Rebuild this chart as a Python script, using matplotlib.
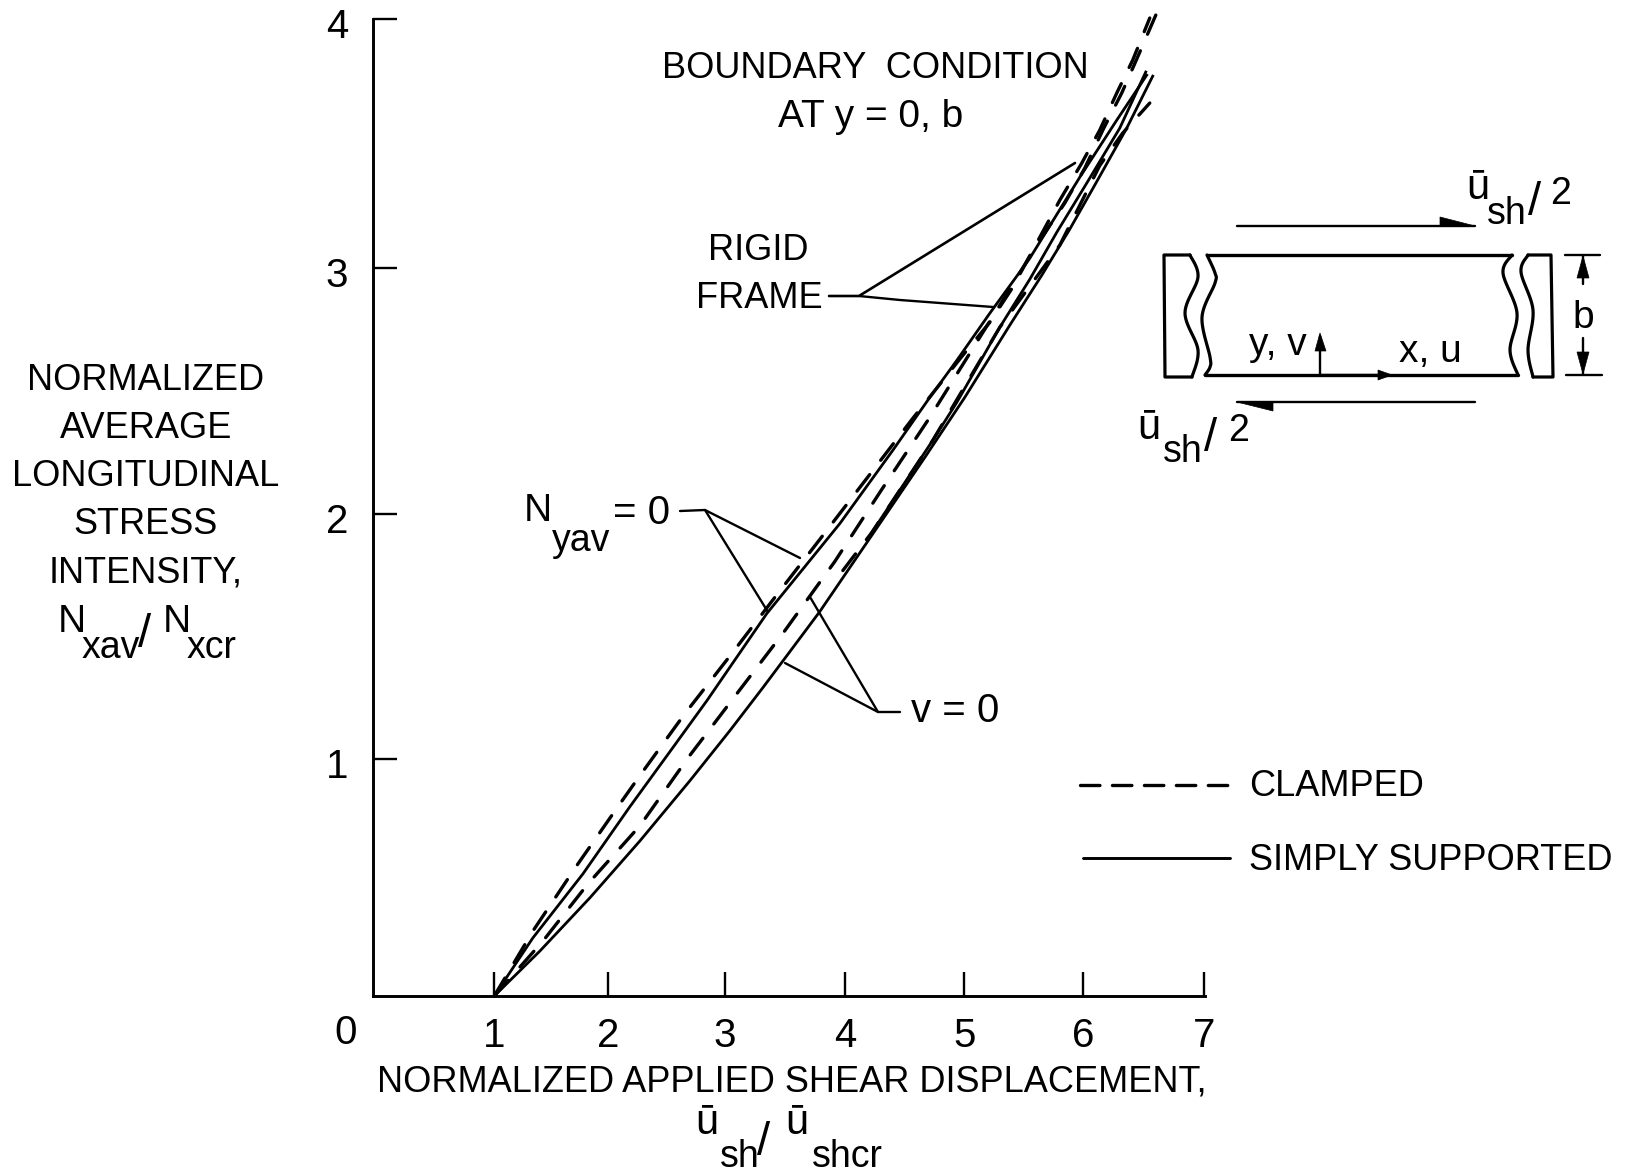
import numpy as np
import matplotlib
matplotlib.use('Agg')
import matplotlib.pyplot as plt
from matplotlib.transforms import ScaledTranslation

plt.rcParams['font.family'] = ['Liberation Sans', 'DejaVu Sans']
plt.rcParams['lines.scale_dashes'] = False

# Simply supported curves
ss_nyav_x = [1.0, 1.327, 1.75, 2.147, 2.485, 2.798, 3.305, 3.922, 4.37, 4.666, 4.911, 5.19, 5.528, 5.951, 6.264, 6.517]
ss_nyav_y = [0.0, 0.238, 0.50, 0.775, 1.0, 1.209, 1.566, 1.934, 2.234, 2.439, 2.602, 2.795, 3.02, 3.352, 3.586, 3.77]
ss_v_x = [1.0, 1.386, 1.809, 2.232, 2.654, 2.992, 3.271, 3.50, 3.753, 4.26, 4.641, 4.979, 5.359, 5.63, 5.866, 6.078, 6.348, 6.568]
ss_v_y = [0.0, 0.184, 0.402, 0.635, 0.881, 1.086, 1.262, 1.41, 1.574, 1.934, 2.205, 2.451, 2.746, 2.951, 3.139, 3.32, 3.553, 3.766]
ss_rigid_x = [4.193, 4.708, 4.911, 5.275, 5.528, 5.757, 6.01, 6.289, 6.509]
ss_rigid_y = [1.898, 2.275, 2.43, 2.738, 2.934, 3.127, 3.328, 3.553, 3.783]

# Clamped curves
cl_nyav_x = [1.0, 1.327, 1.708, 2.063, 2.249, 2.612, 3.009, 3.398, 3.778, 4.15, 4.539, 4.962, 5.19, 5.385, 5.782, 5.968, 6.12, 6.264, 6.399, 6.543]
cl_nyav_y = [0.0, 0.266, 0.541, 0.787, 0.914, 1.156, 1.402, 1.648, 1.885, 2.119, 2.365, 2.623, 2.758, 2.902, 3.258, 3.41, 3.545, 3.697, 3.832, 4.004]
cl_v_x = [1.0, 1.412, 1.792, 2.232, 2.646, 3.052, 3.44, 3.88, 4.277, 4.683, 5.021, 5.275, 5.613, 5.824, 5.993, 6.154, 6.306, 6.433, 6.602]
cl_v_y = [0.0, 0.225, 0.459, 0.697, 0.98, 1.238, 1.484, 1.779, 2.074, 2.369, 2.631, 2.828, 3.094, 3.246, 3.389, 3.553, 3.697, 3.836, 4.025]
cl_rigid_x = [3.948, 4.193, 4.708, 5.275, 5.782, 6.12, 6.314, 6.543]
cl_rigid_y = [1.742, 1.898, 2.275, 2.738, 3.074, 3.40, 3.533, 3.656]

# tick marks of the original sit slightly off an even grid
x_tick_pos = [1, 1.965, 2.95, 3.965, 4.975, 5.98, 7]
x_tick_labels = ['1', '2', '3', '4', '5', '6', '7']
y_tick_pos = [0.97, 1.975, 2.98, 4]
y_tick_labels = ['1', '2', '3', '4']

ylabel_lines = ['NORMALIZED', 'AVERAGE', 'LONGITUDINAL', 'STRESS', 'INTENSITY,']
ylabel_y = [380, 428, 476, 525, 573]

W, H = 1631, 1174
TXT = 26
fig = plt.figure(figsize=(W / 100, H / 100), dpi=100)

# axes box in pixels of the picture
left, right, top, bottom = 373, 1205, 19, 996
ax = fig.add_axes([left / W, 1 - bottom / H, (right - left) / W, (bottom - top) / H])
ax.set_xlim(-0.025, 7.01)
ax.set_ylim(0, 4)
for s in ['top', 'right']:
    ax.spines[s].set_visible(False)
for s in ['left', 'bottom']:
    ax.spines[s].set_linewidth(2.1)
ax.set_xticks(x_tick_pos, x_tick_labels)
ax.set_yticks(y_tick_pos, y_tick_labels)
ax.tick_params(direction='in', length=17, width=1.7, labelsize=29)
ax.tick_params(axis='x', pad=15)
ax.tick_params(axis='y', pad=18)
down = ScaledTranslation(0, -3 / 72, fig.dpi_scale_trans)
for t in ax.get_yticklabels():
    t.set_transform(t.get_transform() + down)

solid = dict(color='black', lw=2.0, clip_on=False)
dash = dict(color='black', lw=2.4, clip_on=False, dashes=(15, 13), dash_capstyle='round')
ax.plot(ss_nyav_x, ss_nyav_y, **solid)
ax.plot(ss_v_x, ss_v_y, **solid)
ax.plot(ss_rigid_x, ss_rigid_y, **solid)
ax.plot(cl_nyav_x, cl_nyav_y, **dash)
ax.plot(cl_v_x, cl_v_y, **dash)
ax.plot(cl_rigid_x, cl_rigid_y, **dash)

# overlay in picture pixels for the notes and the sketch
ov = fig.add_axes([0, 0, 1, 1])
ov.set_xlim(0, W)
ov.set_ylim(H, 0)
ov.axis('off')
ov.patch.set_alpha(0)


def line(xs, ys, lw=1.7):
    ov.plot(xs, ys, color='black', lw=lw, solid_capstyle='round', solid_joinstyle='round')


def head(xs, ys):
    ov.fill(xs, ys, color='black', lw=0.5)


def smooth(pts, n=14):
    # catmull-rom through the given outline points
    p = np.array(pts, dtype=float)
    p = np.vstack([p[0], p, p[-1]])
    out = []
    for i in range(1, len(p) - 2):
        for t in np.linspace(0, 1, n):
            out.append(0.5 * (2 * p[i] + (p[i + 1] - p[i - 1]) * t
                              + (2 * p[i - 1] - 5 * p[i] + 4 * p[i + 1] - p[i + 2]) * t ** 2
                              + (3 * p[i] - p[i - 1] - 3 * p[i + 1] + p[i + 2]) * t ** 3))
    out = np.array(out)
    return out[:, 0], out[:, 1]


def label(x, y, s, size=TXT, ha='center'):
    ov.text(x, y, s, fontsize=size, ha=ha, va='center', color='black')


label(346, 1033, '0', size=29)
label(875, 68, 'BOUNDARY  CONDITION')
label(871, 117, 'AT y = 0, b', size=28)
label(758, 251, 'RIGID')
label(759, 299, 'FRAME')
for s, yy in zip(ylabel_lines, ylabel_y):
    label(146, yy, s)
label(792, 1082, 'NORMALIZED APPLIED SHEAR DISPLACEMENT,')
label(911, 711, 'v = 0', size=29, ha='left')
label(1249, 787, 'CLAMPED', ha='left')
label(1249, 860, 'SIMPLY SUPPORTED', ha='left')

# big dropped subscripts, set piece by piece as in the original lettering
label(58, 622, 'N', size=28, ha='left')
label(82, 648, 'xav', size=27, ha='left')
label(145, 635, '/', size=34)
label(163, 622, 'N', size=28, ha='left')
label(187, 648, 'xcr', size=27, ha='left')

label(538, 511, 'N', size=28)
label(552, 541, 'yav', size=27, ha='left')
label(613, 513, '= 0', size=29, ha='left')

label(695, 1123, 'ū', size=30, ha='left')
label(720, 1157, 'sh', size=27, ha='left')
label(764, 1143, '/', size=34)
label(785, 1123, 'ū', size=30, ha='left')
label(812, 1157, 'shcr', size=27, ha='left')

label(1466, 188, 'ū', size=30, ha='left')
label(1487, 214, 'sh', size=27, ha='left')
label(1535, 203, '/', size=34)
label(1550, 194, '2', size=27, ha='left')

label(1137, 428, 'ū', size=30, ha='left')
label(1163, 452, 'sh', size=27, ha='left')
label(1211, 439, '/', size=34)
label(1228, 431, '2', size=27, ha='left')

# leader lines
line([829, 859, 1075], [296, 296, 163], lw=1.9)
line([859, 900, 993], [296, 300, 307])
line([680, 705, 800], [511, 510, 558])
line([705, 768], [510, 612])
line([900, 878, 810], [712, 712, 597])
line([878, 785], [712, 663])

# legend
ov.plot([1080, 1228], [785, 785], color='black', lw=2.4, dashes=(14, 9), dash_capstyle='round')
line([1083, 1230], [858, 858], lw=2.1)

# sketch of the panel
line([1207, 1512], [255, 255], lw=2.4)
line([1205, 1518], [375, 375], lw=2.4)
line(*smooth([(1207, 255), (1215, 273), (1215, 283), (1202, 317), (1210, 357), (1210, 367), (1205, 375)]), lw=2.3)
line(*smooth([(1512, 255), (1503, 273), (1517, 313), (1510, 350), (1518, 375)]), lw=2.3)
bx, by = smooth([(1190, 255), (1198, 277), (1185, 313), (1198, 350), (1192, 377)])
line(bx, by, lw=2.3)
line([1190, 1164, 1165, 1192], [255, 255, 377, 377], lw=2.3)
bx, by = smooth([(1528, 255), (1521, 272), (1533, 310), (1528, 350), (1533, 377)])
line(bx, by, lw=2.3)
line([1528, 1551, 1553, 1533], [255, 255, 377, 377], lw=2.3)

line([1237, 1475], [226, 226])
head([1440, 1475, 1440], [217, 226, 226])
line([1237, 1475], [402, 402])
head([1237, 1273, 1273], [402, 411, 402])
line([1320, 1320], [375, 336])
head([1315, 1320, 1326], [351, 333, 351])
line([1320, 1380], [375, 375])
head([1378, 1392, 1378], [370, 375, 380])
line([1583, 1583], [256, 284])
head([1577, 1583, 1589], [278, 256, 278])
line([1583, 1583], [338, 374])
head([1577, 1583, 1589], [352, 374, 352])
line([1565, 1600], [255, 255])
line([1566, 1602], [375, 375])

label(1278, 345, 'y, v', size=28)
label(1430, 352, 'x, u', size=28)
label(1583, 318, 'b', size=28)

fig.savefig('out.png', dpi=100, facecolor='white')
